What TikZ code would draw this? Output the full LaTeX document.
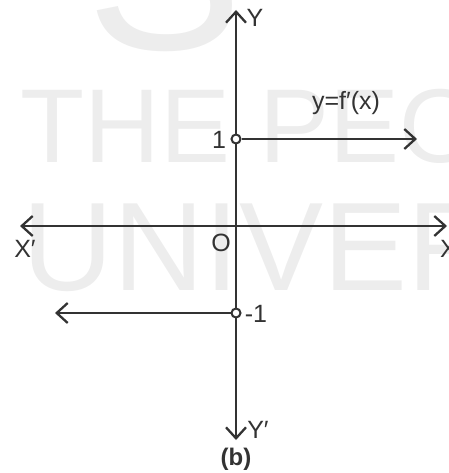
\documentclass[tikz,border=0pt]{standalone}
\usepackage{fontspec}
\setmainfont{Liberation Sans}
\usetikzlibrary{arrows.meta}
\definecolor{ink}{HTML}{333333}
\definecolor{wm}{HTML}{EDEDED}
\tikzset{
  axis/.style={draw=ink, line width=2.3pt, -{Straight Barb[length=11pt,width=20pt,line width=2.3pt]}},
  both/.style={draw=ink, line width=2.3pt, {Straight Barb[length=11pt,width=20pt,line width=2.3pt]}-{Straight Barb[length=11pt,width=20pt,line width=2.3pt]}},
  lbl/.style={inner sep=0pt, text=ink, font=\fontsize{25}{29}\selectfont},
  wmark/.style={inner sep=0pt, anchor=base west, text=wm},
  hole/.style={circle, draw=ink, fill=white, line width=2pt, minimum size=9pt, inner sep=0pt}
}
\begin{document}
\begin{tikzpicture}[x=1pt, y=-1pt]
\useasboundingbox (0,0) rectangle (448,473);
\clip (0,0) rectangle (448,473);
% watermark
\node[wmark, font=\fontsize{235}{235}\selectfont] (wmS) at (86,50) {S};
\node[wmark, font=\fontsize{105}{105}\selectfont] (wmA) at (20,162) {THE PEO};
\node[wmark, font=\fontsize{126}{126}\selectfont] (wmB) at (22,290) {UNIVER};
% axes
\coordinate (ytop) at (236,10);
\coordinate (ybot) at (236,440);
\coordinate (xl) at (20,226);
\coordinate (xr) at (447,226);
\draw[both] (ybot) -- (ytop);
\draw[both] (xl) -- (xr);
% branches
\coordinate (up) at (417,139);
\coordinate (dn) at (55,313);
\node[hole] (p1) at (236,139) {};
\node[hole] (m1) at (236,313) {};
\draw[axis] (p1) -- (up);
\draw[axis] (m1) -- (dn);
% labels
\node[lbl] (lY) at (255,18) {Y};
\node[lbl] (lYp) at (258,430) {Y′};
\node[lbl] (lXp) at (25,249) {X′};
\node[lbl, anchor=west] (lX) at (440,249) {X};
\node[lbl] (lO) at (221,243) {O};
\node[lbl] (l1) at (219,140) {1};
\node[lbl] (lm1) at (256,314) {-1};
\node[lbl, anchor=base] (lf) at (346,110) {y=f′(x)};
\node[lbl, font=\fontsize{24}{28}\selectfont\bfseries] (lb) at (236,459) {(b)};
\end{tikzpicture}
\end{document}
